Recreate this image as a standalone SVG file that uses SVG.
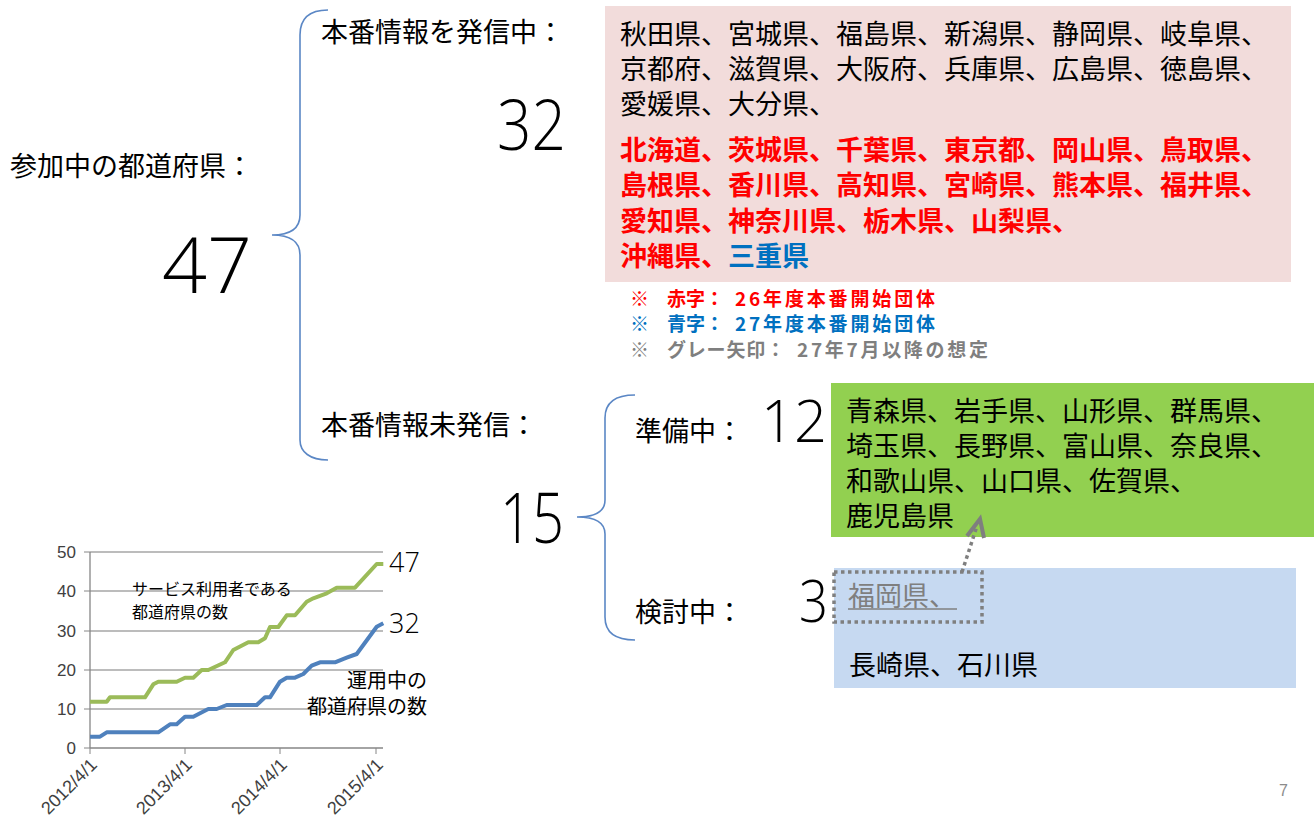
<svg xmlns="http://www.w3.org/2000/svg" width="1316" height="818" viewBox="0 0 1316 818">
<style>
.jp{font-family:"Noto Sans CJK JP","Noto Sans CJK SC",sans-serif;}
.t27{font-size:27px;fill:#000;}
.red{fill:#FF0000;font-weight:bold;}
.blu{fill:#0070C0;font-weight:bold;}
.gry{fill:#7F7F7F;}
.big{font-family:"Open Sans","Lato","Noto Sans",sans-serif;font-weight:300;fill:#000;}
.brace{fill:none;stroke:#5B87C5;stroke-width:1.6;}
.note{font-size:19px;font-weight:bold;}
.ax{font-family:"Liberation Sans",Arial,sans-serif;font-size:17px;fill:#404040;}
.axx{font-family:"Liberation Sans",Arial,sans-serif;font-size:18px;fill:#404040;}
.grid{stroke:#A6A6A6;stroke-width:1.3;}
</style>
<rect width="1316" height="818" fill="#fff"/>

<g id="connectors">
<path class="brace" d="M328,10 C310,10 300,18 300,35 L300,215 C300,228 292,235 272,235 C292,235 300,242 300,255 L300,440 C300,452 310,460 328,460"/>
<path class="brace" d="M635,395 C615,395 605,403 605,418 L605,500 C605,511 597,517 577,517 C597,517 605,523 605,534 L605,617 C605,632 615,640 635,640"/>
</g>

<g id="total">
<text class="jp t27" x="10" y="176">参加中の都道府県：</text>
<text class="big" x="162" y="293" font-size="78" textLength="90" lengthAdjust="spacingAndGlyphs">47</text>
</g>

<g id="sending-label">
<text class="jp t27" x="321" y="42">本番情報を発信中：</text>
<text class="big" x="497" y="150" font-size="70" textLength="69" lengthAdjust="spacingAndGlyphs">32</text>
</g>

<g id="sending-box">
<rect x="605" y="6" width="686" height="276" fill="#F2DCDB"/>
<text class="jp t27" x="620" y="44">秋田県、宮城県、福島県、新潟県、静岡県、岐阜県、</text>
<text class="jp t27" x="620" y="79">京都府、滋賀県、大阪府、兵庫県、広島県、徳島県、</text>
<text class="jp t27" x="620" y="114">愛媛県、大分県、</text>
<text class="jp t27 red" x="620" y="160">北海道、茨城県、千葉県、東京都、岡山県、鳥取県、</text>
<text class="jp t27 red" x="620" y="195">島根県、香川県、高知県、宮崎県、熊本県、福井県、</text>
<text class="jp t27 red" x="620" y="231">愛知県、神奈川県、栃木県、山梨県、</text>
<text class="jp t27" x="620" y="266"><tspan class="red">沖縄県、</tspan><tspan class="blu">三重県</tspan></text>
</g>

<g id="legend">
<text class="jp note red" y="306"><tspan x="630">※</tspan><tspan x="667">赤字：</tspan><tspan x="735" textLength="200" lengthAdjust="spacing">26年度本番開始団体</tspan></text>
<text class="jp note blu" y="331"><tspan x="630">※</tspan><tspan x="667">青字：</tspan><tspan x="735" textLength="200" lengthAdjust="spacing">27年度本番開始団体</tspan></text>
<text class="jp note gry" y="357"><tspan x="630">※</tspan><tspan x="667" textLength="118" lengthAdjust="spacing">グレー矢印：</tspan><tspan x="797" textLength="191" lengthAdjust="spacing">27年7月以降の想定</tspan></text>
</g>

<g id="not-sending">
<text class="jp t27" x="321" y="435">本番情報未発信：</text>
<text class="big" x="500" y="543" font-size="70" textLength="64" lengthAdjust="spacingAndGlyphs">15</text>
</g>

<g id="preparing">
<text class="jp t27" x="635" y="441">準備中：</text>
<text class="big" x="761" y="442" font-size="58" textLength="66" lengthAdjust="spacingAndGlyphs">12</text>
<rect x="831" y="383" width="483" height="154" fill="#92D050"/>
<text class="jp t27" x="846" y="421">青森県、岩手県、山形県、群馬県、</text>
<text class="jp t27" x="846" y="456">埼玉県、長野県、富山県、奈良県、</text>
<text class="jp t27" x="846" y="491">和歌山県、山口県、佐賀県、</text>
<text class="jp t27" x="846" y="526">鹿児島県</text>
</g>

<g id="considering">
<text class="jp t27" x="635" y="622">検討中：</text>
<text class="big" x="799" y="622" font-size="58" textLength="29" lengthAdjust="spacingAndGlyphs">3</text>
<rect x="834" y="568" width="462" height="120" fill="#C6D9F1"/>
<text class="jp t27 gry" x="848" y="606">福岡県、</text>
<line x1="848" y1="609" x2="957" y2="609" stroke="#7F7F7F" stroke-width="1.5"/>
<text class="jp t27" x="849" y="675">長崎県、石川県</text>
<rect x="834" y="572" width="148" height="50" fill="none" stroke="#7F7F7F" stroke-width="3.5" stroke-dasharray="3.5 3.5"/>
</g>

<g id="gray-arrow">
<line x1="962" y1="572" x2="977" y2="526" stroke="#7F7F7F" stroke-width="3.5" stroke-dasharray="3.5 3.5"/>
<polyline points="967,536 980,519 984,538" fill="none" stroke="#7F7F7F" stroke-width="4" stroke-linejoin="miter"/>
</g>

<g id="chart">
<line class="grid" x1="90" y1="552" x2="383" y2="552"/>
<line class="grid" x1="90" y1="591" x2="383" y2="591"/>
<line class="grid" x1="90" y1="631" x2="383" y2="631"/>
<line class="grid" x1="90" y1="670" x2="383" y2="670"/>
<line class="grid" x1="90" y1="709" x2="383" y2="709"/>
<line x1="90" y1="748" x2="383" y2="748" stroke="#868686" stroke-width="1.3"/>
<line x1="90" y1="552" x2="90" y2="748" stroke="#868686" stroke-width="1.3"/>
<line x1="84" y1="552" x2="90" y2="552" stroke="#868686"/>
<line x1="84" y1="591" x2="90" y2="591" stroke="#868686"/>
<line x1="84" y1="631" x2="90" y2="631" stroke="#868686"/>
<line x1="84" y1="670" x2="90" y2="670" stroke="#868686"/>
<line x1="84" y1="709" x2="90" y2="709" stroke="#868686"/>
<line x1="84" y1="748" x2="90" y2="748" stroke="#868686"/>
<line x1="90" y1="748" x2="90" y2="754" stroke="#868686"/>
<line x1="185" y1="748" x2="185" y2="754" stroke="#868686"/>
<line x1="280" y1="748" x2="280" y2="754" stroke="#868686"/>
<line x1="376" y1="748" x2="376" y2="754" stroke="#868686"/>
<text class="ax" x="76" y="558" text-anchor="end">50</text>
<text class="ax" x="76" y="597" text-anchor="end">40</text>
<text class="ax" x="76" y="637" text-anchor="end">30</text>
<text class="ax" x="76" y="676" text-anchor="end">20</text>
<text class="ax" x="76" y="715" text-anchor="end">10</text>
<text class="ax" x="76" y="754" text-anchor="end">0</text>
<text class="axx" text-anchor="end" transform="translate(98,766) rotate(-45)">2012/4/1</text>
<text class="axx" text-anchor="end" transform="translate(193,766) rotate(-45)">2013/4/1</text>
<text class="axx" text-anchor="end" transform="translate(288,766) rotate(-45)">2014/4/1</text>
<text class="axx" text-anchor="end" transform="translate(384,766) rotate(-45)">2015/4/1</text>
<polyline fill="none" stroke="#9BBB59" stroke-width="4" stroke-linejoin="round" points="90,701.7 106.7,701.7 110,697.3 145,697.3 153.3,684.3 158.3,681.7 176.7,681.7 185,677.7 193.3,677.7 201.7,670 208.3,670 225,662.3 233.3,650 248.3,642.3 258.3,642.3 265,638.3 270,627 278.3,627 286.7,615.3 295,615.3 306.7,601.7 313.3,598.3 326.7,593.3 336.7,587.7 355,587.7 376.7,564 383.3,564"/>
<polyline fill="none" stroke="#4F81BD" stroke-width="4" stroke-linejoin="round" points="90,736.7 100,736.7 106.7,732.3 158.3,732.3 170,724.3 176.7,724.3 185,716.7 193.3,716.7 200,713.3 208.3,709 216.7,709 226.7,705 256.7,705 265,697.3 270,697.3 280,681.7 286.7,677.7 295,677.7 303.3,674 311.7,665.7 320,662.3 335,662.3 346.7,657.7 356.7,654 376.7,626.7 383.3,623.3"/>
<text class="big" x="389" y="572" font-size="27">47</text>
<text class="big" x="389" y="633" font-size="27">32</text>
<text class="jp" x="132" y="595" font-size="16" fill="#000">サービス利用者である</text>
<text class="jp" x="132" y="618" font-size="16" fill="#000">都道府県の数</text>
<text class="jp" x="427" y="688" font-size="20" fill="#000" text-anchor="end">運用中の</text>
<text class="jp" x="427" y="714" font-size="20" fill="#000" text-anchor="end">都道府県の数</text>
</g>

<g id="page-number">
<text x="1279" y="796" font-family="Liberation Sans, Arial, sans-serif" font-size="16" fill="#8C8C8C">7</text>
</g>
</svg>
